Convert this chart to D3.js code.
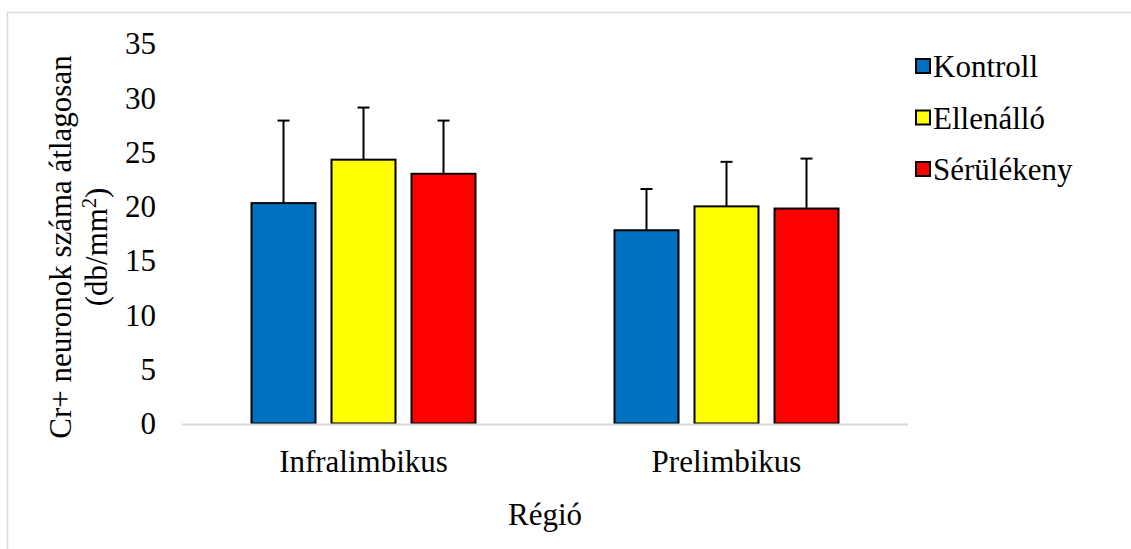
<!DOCTYPE html>
<html>
<head>
<meta charset="utf-8">
<script src="https://cdn.jsdelivr.net/npm/d3@7"></script>
</head>
<body style="margin:0; background:#fff">
<div id="chart"></div>
<script>
// Chart data
const regions = ['Infralimbikus', 'Prelimbikus'];
const groups = ['Kontroll', 'Ellenálló', 'Sérülékeny'];
const groupColors = ['#0070C0', '#FFFF00', '#FF0000'];
const means = [
    [20.3, 24.3, 23.0],   // Infralimbikus
    [17.8, 20.0, 19.8]    // Prelimbikus
];
const errors = [
    [7.6, 4.8, 4.9],
    [3.8, 4.1, 4.6]
];
const yTicks = [0, 5, 10, 15, 20, 25, 30, 35];

const FONT = '"Liberation Serif", "Times New Roman", serif';
const width = 1131, height = 549;
const margin = { left: 182, right: 223, top: 43.5, bottom: 125.5 };

const svg = d3.select('#chart')
    .append('svg')
    .attr('width', width)
    .attr('height', height)
    .style('display', 'block')
    .style('font-family', FONT);

// Outer frame
svg.append('rect')
    .attr('x', 7.5).attr('y', 12.5)
    .attr('width', width + 10).attr('height', height + 10)
    .attr('fill', 'none')
    .attr('stroke', '#d9d9d9')
    .attr('stroke-width', 1.5);

const x0 = d3.scaleBand()
    .domain(regions)
    .range([margin.left, width - margin.right]);

const groupWidth = 224;
const x1 = d3.scaleBand()
    .domain(groups)
    .range([(x0.bandwidth() - groupWidth) / 2, (x0.bandwidth() + groupWidth) / 2])
    .paddingInner(0.2);

const y = d3.scaleLinear()
    .domain([0, 35])
    .range([height - margin.bottom, margin.top]);

// Y axis labels (no axis line)
const yAxis = svg.append('g')
    .attr('transform', `translate(${margin.left - 26},0)`)
    .call(d3.axisLeft(y).tickValues(yTicks).tickSize(0).tickPadding(0));
yAxis.select('.domain').remove();
yAxis.selectAll('text')
    .style('font-family', FONT)
    .attr('font-size', 31)
    .attr('fill', '#000')
    .attr('dy', '0.33em');

// Bars
const rows = regions.map((r, i) => groups.map((g, j) => ({
    region: r, group: g, color: groupColors[j], value: means[i][j], err: errors[i][j]
})));

const regionG = svg.append('g')
    .selectAll('g')
    .data(rows)
    .enter().append('g')
    .attr('transform', (d, i) => `translate(${x0(regions[i])},0)`);

// Error bars (drawn under the bars)
const errG = regionG.selectAll('g.err')
    .data(d => d)
    .enter().append('g')
    .attr('class', 'err')
    .attr('stroke', '#000')
    .attr('stroke-width', 2);
errG.append('line')
    .attr('x1', d => x1(d.group) + x1.bandwidth() / 2)
    .attr('x2', d => x1(d.group) + x1.bandwidth() / 2)
    .attr('y1', d => y(d.value))
    .attr('y2', d => y(d.value + d.err));
errG.append('line')
    .attr('x1', d => x1(d.group) + x1.bandwidth() / 2 - 6)
    .attr('x2', d => x1(d.group) + x1.bandwidth() / 2 + 6)
    .attr('y1', d => y(d.value + d.err))
    .attr('y2', d => y(d.value + d.err));

regionG.selectAll('rect')
    .data(d => d)
    .enter().append('rect')
    .attr('x', d => x1(d.group))
    .attr('width', x1.bandwidth())
    .attr('y', d => y(d.value))
    .attr('height', d => y(0) - y(d.value))
    .attr('fill', d => d.color)
    .attr('stroke', '#000')
    .attr('stroke-width', 2);

// X axis baseline
svg.append('line')
    .attr('x1', margin.left).attr('x2', width - margin.right)
    .attr('y1', y(0) + 1).attr('y2', y(0) + 1)
    .attr('stroke', '#d9d9d9')
    .attr('stroke-width', 2);

// Category labels
svg.append('g')
    .selectAll('text')
    .data(regions)
    .enter().append('text')
    .attr('x', d => x0(d) + x0.bandwidth() / 2)
    .attr('y', 472)
    .attr('text-anchor', 'middle')
    .attr('font-size', 31)
    .style('font-family', FONT)
    .text(d => d);

// Axis titles
svg.append('text')
    .attr('x', (margin.left + width - margin.right) / 2)
    .attr('y', 525)
    .attr('text-anchor', 'middle')
    .attr('font-size', 31)
    .style('font-family', FONT)
    .text('Régió');

const yTitle = svg.append('text')
    .attr('transform', 'translate(0,247) rotate(-90)')
    .attr('text-anchor', 'middle')
    .attr('font-size', 31)
    .style('font-family', FONT);
yTitle.append('tspan')
    .attr('x', 0).attr('y', 71)
    .text('Cr+ neuronok száma átlagosan');
const line2 = yTitle.append('tspan')
    .attr('x', 0).attr('y', 107);
line2.append('tspan').text('(db/mm');
line2.append('tspan').attr('font-size', 20).attr('dy', -11).text('2');
line2.append('tspan').attr('dy', 11).text(')');

// Legend
const legend = svg.append('g')
    .selectAll('g')
    .data(groups)
    .enter().append('g')
    .attr('transform', (d, i) => `translate(916,${66 + i * 51.5})`);
legend.append('rect')
    .attr('x', 0).attr('y', -7)
    .attr('width', 14).attr('height', 14)
    .attr('fill', (d, i) => groupColors[i])
    .attr('stroke', '#000')
    .attr('stroke-width', 2);
legend.append('text')
    .attr('x', 17)
    .attr('y', 11)
    .attr('font-size', 31)
    .style('font-family', FONT)
    .text(d => d);
</script>
</body>
</html>
